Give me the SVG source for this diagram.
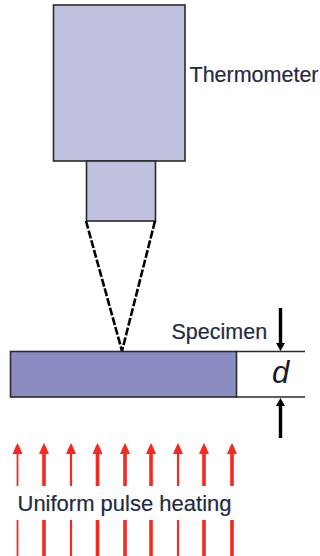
<svg xmlns="http://www.w3.org/2000/svg" width="320" height="556" viewBox="0 0 320 556">
<style>
.b{stroke:#2a2a2a;stroke-width:1.6}
.t{font-family:"Liberation Sans",Arial,sans-serif;font-size:21.5px;fill:#1f2a44;stroke:#1f2a44;stroke-width:.2}
.k{stroke:#000;stroke-width:3.4;fill:none}
.d{stroke:#000;stroke-width:2.6;fill:none;stroke-dasharray:8 2}
.r{stroke:#f42a20;fill:none}
.h{fill:#f42a20}
</style>
<defs>
<g id="ar"><polygon class="h" points="0,0 2,4 5,11 -5,11 -2,4"/></g>
</defs>
<rect width="320" height="556" fill="#fff"/>
<g id="thermometer">
<rect class="b" x="53.5" y="5" width="131.5" height="156" fill="#c0c0df"/>
<rect class="b" x="86.5" y="161" width="69" height="60" fill="#c0c0df"/>
<text class="t" x="189.5" y="82">Thermometer</text>
</g>
<g id="specimen">
<rect class="b" x="10.5" y="351.5" width="226" height="45.5" fill="#8b8dc2"/>
<text class="t" x="171.5" y="339">Specimen</text>
</g>
<g id="thickness">
<path class="b" d="M236 351.5H305M236 397H305" fill="none"/>
<text x="272" y="383" style="font-family:'Liberation Sans',Arial,sans-serif;font-size:31px;font-style:italic;fill:#1a1a2a">d</text>
</g>
<g id="heating">
<text class="t" x="17.5" y="511" style="font-size:22px">Uniform pulse heating</text>
</g>
<g id="connectors">
<path class="d" d="M86 221L122 351M155 221L122 351"/>
<path class="k" d="M280.5 308V346M280.5 403V438"/>
<polygon points="280.5,351 276,343 285,343" fill="#000"/>
<polygon points="280.5,398 276,406 285,406" fill="#000"/>
<g class="r">
<path stroke-width="1.8" d="M17.5 450V486M17.5 520V556"/>
<path stroke-width="3.6" d="M44 450V486M44 520V556"/>
<path stroke-width="2.2" d="M71 450V486M71 520V556"/>
<path stroke-width="3.6" d="M97.5 450V486M97.5 520V556"/>
<path stroke-width="3.6" d="M125 450V486M125 520V556"/>
<path stroke-width="3.6" d="M151 450V486M151 520V556"/>
<path stroke-width="2.2" d="M178 450V486M178 520V556"/>
<path stroke-width="3.6" d="M204 450V486M204 520V556"/>
<path stroke-width="3.6" d="M232 450V486M232 520V556"/>
</g>
<use href="#ar" x="17.5" y="443"/><use href="#ar" x="44" y="443"/><use href="#ar" x="71" y="443"/><use href="#ar" x="97.5" y="443"/><use href="#ar" x="125" y="443"/><use href="#ar" x="151" y="443"/><use href="#ar" x="178" y="443"/><use href="#ar" x="204" y="443"/><use href="#ar" x="232" y="443"/>
</g>
</svg>
